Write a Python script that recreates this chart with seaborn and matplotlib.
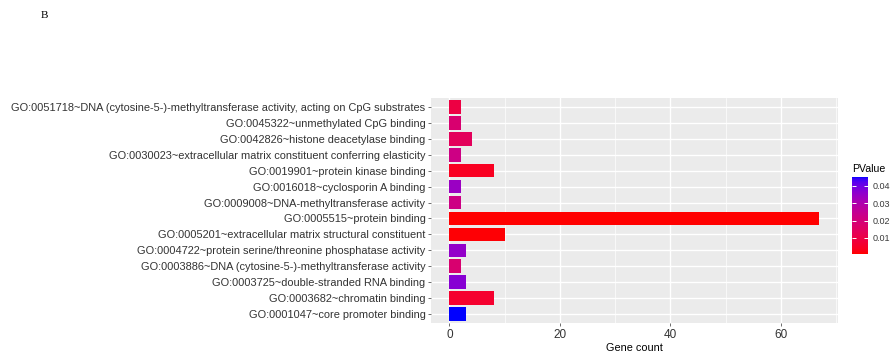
import numpy as np
import pandas as pd
import matplotlib
matplotlib.use("Agg")
import matplotlib.pyplot as plt
import seaborn as sns
from matplotlib.colors import ListedColormap, Normalize
from matplotlib.cm import ScalarMappable

# data, top to bottom as in the figure
terms = [
    "GO:0051718~DNA (cytosine-5-)-methyltransferase activity, acting on CpG substrates",
    "GO:0045322~unmethylated CpG binding",
    "GO:0042826~histone deacetylase binding",
    "GO:0030023~extracellular matrix constituent conferring elasticity",
    "GO:0019901~protein kinase binding",
    "GO:0016018~cyclosporin A binding",
    "GO:0009008~DNA-methyltransferase activity",
    "GO:0005515~protein binding",
    "GO:0005201~extracellular matrix structural constituent",
    "GO:0004722~protein serine/threonine phosphatase activity",
    "GO:0003886~DNA (cytosine-5-)-methyltransferase activity",
    "GO:0003725~double-stranded RNA binding",
    "GO:0003682~chromatin binding",
    "GO:0001047~core promoter binding",
]
gene_count = [2, 2, 4, 2, 8, 2, 2, 67, 10, 3, 2, 3, 8, 3]
pvalue = [0.0095, 0.018, 0.014, 0.022, 0.004, 0.034, 0.022,
          0.0008, 0.0012, 0.035, 0.018, 0.037, 0.006, 0.045]

df = pd.DataFrame({"term": terms, "count": gene_count, "p": pvalue})


# red -> blue gradient interpolated in Lab, like ggplot's scale_fill_gradient
def srgb_to_lab(rgb):
    rgb = np.asarray(rgb, float)
    lin = np.where(rgb <= 0.04045, rgb / 12.92, ((rgb + 0.055) / 1.055) ** 2.4)
    m = np.array([[0.4124, 0.3576, 0.1805],
                  [0.2126, 0.7152, 0.0722],
                  [0.0193, 0.1192, 0.9505]])
    xyz = m @ lin / np.array([0.95047, 1.0, 1.08883])
    f = np.where(xyz > 0.008856, np.cbrt(xyz), 7.787 * xyz + 16 / 116)
    return np.array([116 * f[1] - 16, 500 * (f[0] - f[1]), 200 * (f[1] - f[2])])


def lab_to_srgb(lab):
    L, a, b = lab
    fy = (L + 16) / 116
    fx = fy + a / 500
    fz = fy - b / 200
    f = np.array([fx, fy, fz])
    xyz = np.where(f ** 3 > 0.008856, f ** 3, (f - 16 / 116) / 7.787)
    xyz = xyz * np.array([0.95047, 1.0, 1.08883])
    m = np.array([[3.2406, -1.5372, -0.4986],
                  [-0.9689, 1.8758, 0.0415],
                  [0.0557, -0.2040, 1.0570]])
    lin = m @ xyz
    lin = np.clip(lin, 0, 1)
    rgb = np.where(lin <= 0.0031308, 12.92 * lin, 1.055 * lin ** (1 / 2.4) - 0.055)
    return np.clip(rgb, 0, 1)


lab_lo = srgb_to_lab([1, 0, 0])
lab_hi = srgb_to_lab([0, 0, 1])
cmap = ListedColormap([lab_to_srgb(lab_lo + t * (lab_hi - lab_lo))
                       for t in np.linspace(0, 1, 256)])
norm = Normalize(vmin=min(pvalue), vmax=max(pvalue))
pal = {t: cmap(norm(p)) for t, p in zip(terms, pvalue)}

plt.rcParams["font.family"] = ["Liberation Sans", "DejaVu Sans"]

fig = plt.figure(figsize=(8.96, 3.52), dpi=100)
ax = fig.add_axes([0.481, 0.0824, 0.4542, 0.6392])
ax.set_facecolor("#EBEBEB")

sns.barplot(data=df, x="count", y="term", hue="term", order=terms,
            palette=pal, legend=False, width=0.86, ax=ax, saturation=1)

ax.set_xlim(-3.35, 70.35)
ax.set_ylim(13.55, -0.55)
ax.set_xticks([0, 20, 40, 60])
ax.set_xticks([10, 30, 50, 70], minor=True)
ax.grid(True, which="major", color="white", linewidth=1.0)
ax.grid(True, which="minor", axis="x", color="white", linewidth=0.5)
ax.set_axisbelow(True)
for s in ax.spines.values():
    s.set_visible(False)
ax.tick_params(axis="both", which="major", length=2.5, width=0.6,
               color="#555555", labelsize=7.95, labelcolor="#333333", pad=1.5)
ax.tick_params(axis="x", which="major", labelsize=8.5, pad=2)
ax.tick_params(which="minor", length=0)
ax.set_xlabel("Gene count", fontsize=7.8, color="black", labelpad=1)
ax.set_ylabel("")

# colour bar legend
cax = fig.add_axes([0.9509, 0.2784, 0.0179, 0.2188])
cb = fig.colorbar(ScalarMappable(norm=norm, cmap=cmap), cax=cax)
cb.outline.set_visible(False)
cb.set_ticks([0.01, 0.02, 0.03, 0.04])
cb.set_ticklabels(["0.01", "0.02", "0.03", "0.04"])
cax.tick_params(direction="in", color="white", length=3, width=0.7,
                left=True, right=True, labelsize=6.5, labelcolor="#3a3a3a", pad=3)
fig.text(0.951, 0.505, "PValue", fontsize=7.6, ha="left", va="bottom")

fig.text(0.045, 0.955, "B", fontsize=8, family="Liberation Serif",
         ha="left", va="center")

fig.savefig("out.png", dpi=100)
